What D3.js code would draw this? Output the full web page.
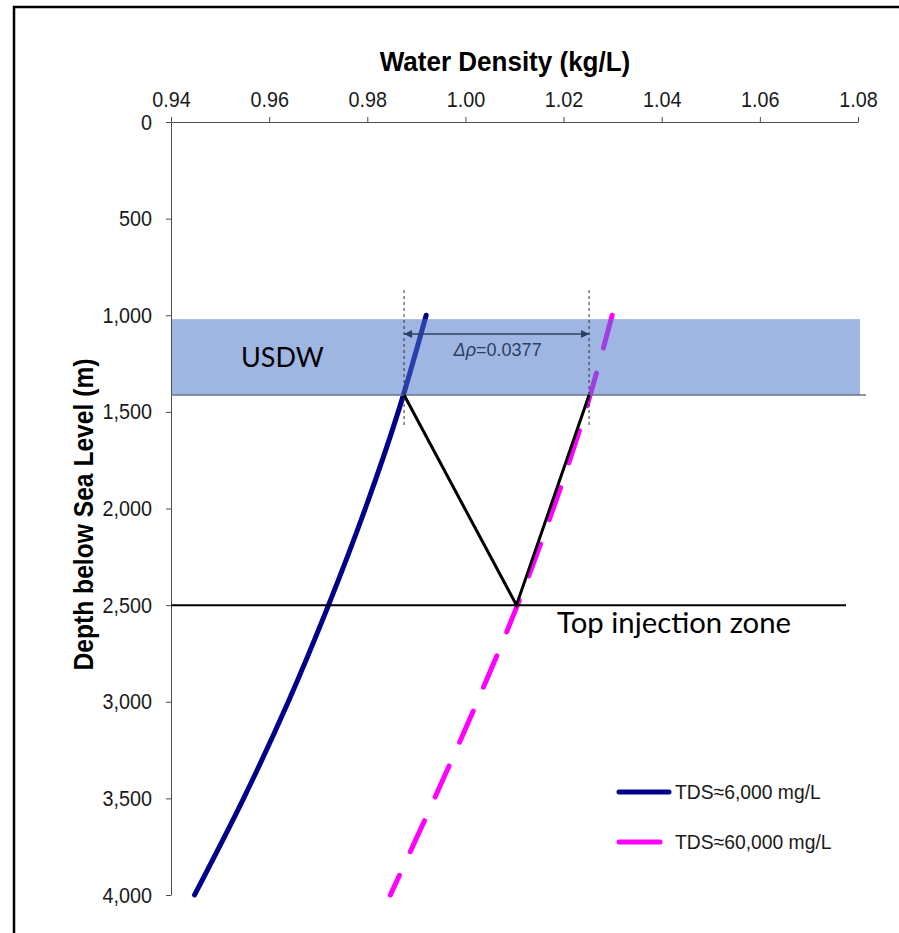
<!DOCTYPE html>
<html>
<head>
<meta charset="utf-8">
<script src="https://cdn.jsdelivr.net/npm/d3@7"></script>
<style>
  html, body { margin: 0; padding: 0; background: #fff; }
  svg { display: block; }
  .tick text { font-family: "Liberation Sans", Arial, sans-serif; font-size: 22px; fill: #1a1a1a; }
  .tick line, .domain { stroke: #4d4d4d; stroke-width: 1; }
</style>
</head>
<body>
<svg id="chart" width="899" height="933"></svg>
<script>
// Axis ticks
const densityTicks = [0.94, 0.96, 0.98, 1.00, 1.02, 1.04, 1.06, 1.08];
const depthTicks = [0, 500, 1000, 1500, 2000, 2500, 3000, 3500, 4000];

// Density profiles (kg/L) against depth below sea level (m)
const depths = [1000, 1500, 2000, 2500, 3000, 3500, 4000];
const densityTDS6000 = [0.9920, 0.9863, 0.9796, 0.9721, 0.9639, 0.9548, 0.9448];
const densityTDS60000 = [1.0299, 1.0244, 1.0179, 1.0106, 1.0024, 0.9937, 0.9847];

// Zones (m)
const usdwTop = 1020;
const usdwBase = 1413;
const injectionTop = 2500;

// Density contrast construction: fresh at USDW base -> brine at injection top -> brine at USDW base
const constructionDepths = [1413, 2500, 1413];
const constructionDensities = [0.9875, 1.0104, 1.0252];

const seriesNames = ["TDS\u22486,000 mg/L", "TDS\u224860,000 mg/L"];
const seriesColors = ["#00008B", "#FF00FF"];

const svg = d3.select("#chart");
const W = 899, H = 933;
const sansFont = "'Liberation Sans', Arial, sans-serif";
const narrow = 0.9; // horizontal squeeze used for the chart's Arial text

const x = d3.scaleLinear().domain([0.94, 1.08]).range([171, 858]);
const y = d3.scaleLinear().domain([0, 4000]).range([122, 895]);

// outer frame
svg.append("rect")
  .attr("x", 14).attr("y", 7)
  .attr("width", W + 20).attr("height", H + 20)
  .attr("fill", "none").attr("stroke", "#000").attr("stroke-width", 2.5);

// axes
const topAxis = svg.append("g")
  .attr("transform", `translate(0,${y(0)})`)
  .call(d3.axisTop(x).tickValues(densityTicks).tickFormat(d3.format(".2f"))
    .tickSize(5).tickSizeOuter(0).tickPadding(10));
topAxis.selectAll(".tick text").attr("transform", `scale(${narrow},1)`);

const leftAxis = svg.append("g")
  .attr("transform", `translate(${x(0.94)},0)`)
  .call(d3.axisLeft(y).tickValues(depthTicks).tickFormat(d3.format(","))
    .tickSize(5).tickSizeOuter(0).tickPadding(14));
leftAxis.selectAll(".tick text")
  .attr("x", -19 / narrow)
  .attr("transform", `scale(${narrow},1)`);

svg.selectAll(".domain").attr("stroke", "#4d4d4d");

// titles
svg.append("text")
  .attr("transform", `translate(505,71) scale(0.93,1)`)
  .attr("text-anchor", "middle")
  .style("font-family", sansFont)
  .style("font-weight", "bold").style("font-size", "28px")
  .text("Water Density (kg/L)");

svg.append("text")
  .attr("transform", `translate(93,${(y(0) + y(4000)) / 2 + 6}) rotate(-90) scale(0.88,1)`)
  .attr("text-anchor", "middle")
  .style("font-family", sansFont)
  .style("font-weight", "bold").style("font-size", "28px")
  .text("Depth below Sea Level (m)");

// density profiles
const line = d3.line()
  .x(d => x(d[1]))
  .y(d => y(d[0]))
  .curve(d3.curveMonotoneY);

svg.append("path")
  .datum(depths.map((d, i) => [d, densityTDS6000[i]]))
  .attr("d", line)
  .attr("fill", "none")
  .attr("stroke", seriesColors[0])
  .attr("stroke-width", 5)
  .attr("stroke-linecap", "round");

svg.append("path")
  .datum(depths.map((d, i) => [d, densityTDS60000[i]]))
  .attr("d", line)
  .attr("fill", "none")
  .attr("stroke", seriesColors[1])
  .attr("stroke-width", 5)
  .attr("stroke-linecap", "round")
  .attr("stroke-dasharray", "34,26");

// USDW band (translucent, over the profiles)
svg.append("rect")
  .attr("x", x(0.94) + 1).attr("y", y(usdwTop))
  .attr("width", 860 - x(0.94) - 1).attr("height", y(usdwBase) - y(usdwTop))
  .attr("fill", "rgb(75,118,200)").attr("fill-opacity", 0.53);

svg.append("line")
  .attr("x1", x(0.94)).attr("x2", 866)
  .attr("y1", y(usdwBase)).attr("y2", y(usdwBase))
  .attr("stroke", "#66768c").attr("stroke-width", 1.5);

svg.append("text")
  .attr("x", 241).attr("y", 367)
  .style("font-family", "Lato, 'Open Sans', sans-serif")
  .style("font-size", "27px").attr("fill", "#000")
  .text("USDW");

// construction lines
svg.append("path")
  .datum(constructionDepths.map((d, i) => [d, constructionDensities[i]]))
  .attr("d", d3.line().x(d => x(d[1])).y(d => y(d[0])))
  .attr("fill", "none").attr("stroke", "#000").attr("stroke-width", 3)
  .attr("stroke-linejoin", "miter");

// top of injection zone
svg.append("line")
  .attr("x1", x(0.94)).attr("x2", 846)
  .attr("y1", y(injectionTop)).attr("y2", y(injectionTop))
  .attr("stroke", "#000").attr("stroke-width", 2);

svg.append("text")
  .attr("x", 557).attr("y", 633)
  .style("font-family", "Lato, 'Open Sans', sans-serif")
  .style("font-size", "29.3px").attr("fill", "#000")
  .text("Top injection zone");

// density contrast marker
const rhoFresh = constructionDensities[0];
const rhoBrine = constructionDensities[2];
[rhoFresh, rhoBrine].forEach(v => {
  svg.append("line")
    .attr("x1", x(v)).attr("x2", x(v))
    .attr("y1", 290).attr("y2", 425)
    .attr("stroke", "#333").attr("stroke-width", 1)
    .attr("stroke-dasharray", "3,3");
});

const defs = svg.append("defs");
defs.append("marker")
  .attr("id", "arrowHead")
  .attr("viewBox", "0 0 10 10")
  .attr("refX", 10).attr("refY", 5)
  .attr("markerWidth", 10).attr("markerHeight", 8)
  .attr("markerUnits", "userSpaceOnUse")
  .attr("orient", "auto-start-reverse")
  .append("path").attr("d", "M0,0 L10,5 L0,10 Z").attr("fill", "#2b3f5f");

svg.append("line")
  .attr("x1", x(rhoFresh)).attr("x2", x(rhoBrine))
  .attr("y1", 334).attr("y2", 334)
  .attr("stroke", "#2b3f5f").attr("stroke-width", 1.6)
  .attr("marker-start", "url(#arrowHead)")
  .attr("marker-end", "url(#arrowHead)");

const dText = svg.append("text")
  .attr("transform", `translate(${(x(rhoFresh) + x(rhoBrine)) / 2 + 1},356) scale(0.95,1)`)
  .attr("text-anchor", "middle")
  .style("font-family", sansFont)
  .style("font-size", "19px").attr("fill", "#2b3f5f");
dText.append("tspan").style("font-style", "italic").text("\u0394\u03c1");
dText.append("tspan").text("=" + d3.format(".4f")(rhoBrine - rhoFresh));

// legend
const legend = svg.append("g");
const legendY = [792, 842];
const legendLen = [50, 41];
seriesNames.forEach((name, i) => {
  legend.append("line")
    .attr("x1", 619).attr("x2", 619 + legendLen[i])
    .attr("y1", legendY[i]).attr("y2", legendY[i])
    .attr("stroke", seriesColors[i]).attr("stroke-width", 5)
    .attr("stroke-linecap", "round");
  legend.append("text")
    .attr("transform", `translate(675,${legendY[i] + 7}) scale(0.92,1)`)
    .style("font-family", sansFont)
    .style("font-size", "21px").attr("fill", "#1a1a1a")
    .text(name);
});
</script>
</body>
</html>
